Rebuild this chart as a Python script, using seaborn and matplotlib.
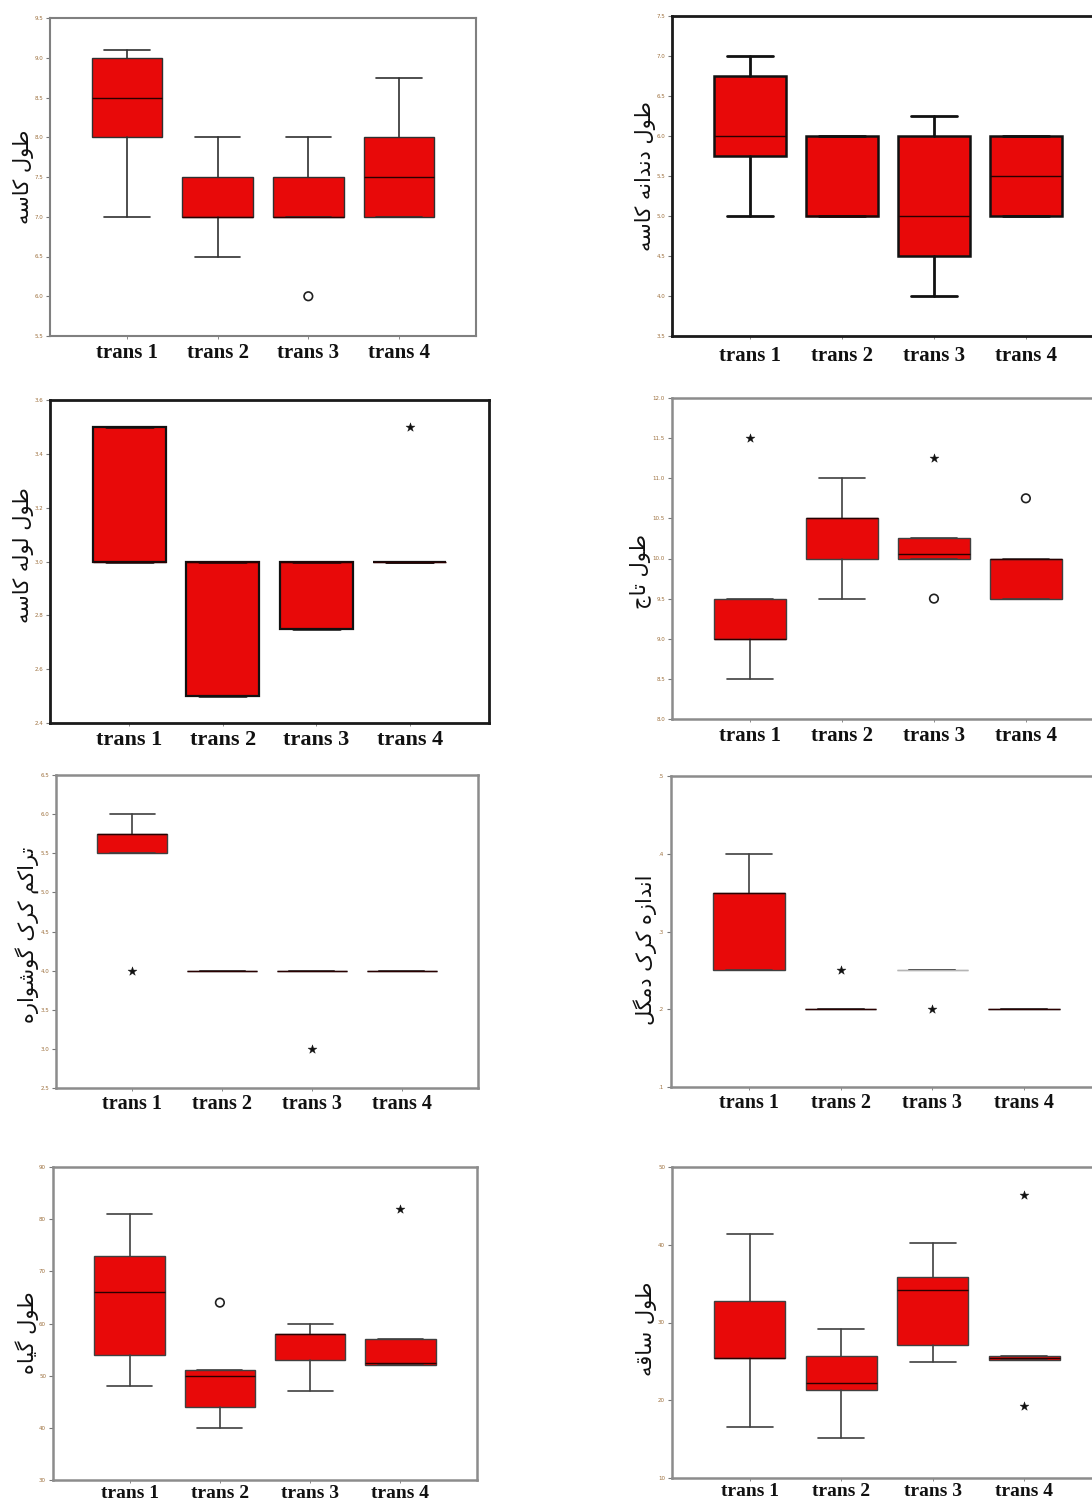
import matplotlib
matplotlib.use("Agg")
import matplotlib.pyplot as plt
import numpy as np
import pandas as pd
import seaborn as sns

# ---- data (five-number summary per group) ----
groups = ["trans 1", "trans 2", "trans 3", "trans 4"]

# each row: whisker low, Q1, median, Q3, whisker high
calyx_stats = [
    [7.0, 8.0, 8.5, 9.0, 9.1],
    [6.5, 7.0, 7.0, 7.5, 8.0],
    [7.0, 7.0, 7.0, 7.5, 8.0],
    [7.0, 7.0, 7.5, 8.0, 8.75],
]
calyx_mild = [[], [], [6.0], []]
calyx_extreme = [[], [], [], []]
calyx_ticks = [5.5, 6.0, 6.5, 7.0, 7.5, 8.0, 8.5, 9.0, 9.5]

tooth_stats = [
    [5.0, 5.75, 6.0, 6.75, 7.0],
    [5.0, 5.0, 5.0, 6.0, 6.0],
    [4.0, 4.5, 5.0, 6.0, 6.25],
    [5.0, 5.0, 5.5, 6.0, 6.0],
]
tooth_mild = [[], [], [], []]
tooth_extreme = [[], [], [], []]
tooth_ticks = [3.5, 4.0, 4.5, 5.0, 5.5, 6.0, 6.5, 7.0, 7.5]

tube_stats = [
    [3.0, 3.0, 3.0, 3.5, 3.5],
    [2.5, 2.5, 3.0, 3.0, 3.0],
    [2.75, 2.75, 3.0, 3.0, 3.0],
    [3.0, 3.0, 3.0, 3.0, 3.0],
]
tube_mild = [[], [], [], []]
tube_extreme = [[], [], [], [3.5]]
tube_ticks = [2.4, 2.6, 2.8, 3.0, 3.2, 3.4, 3.6]

corolla_stats = [
    [8.5, 9.0, 9.0, 9.5, 9.5],
    [9.5, 10.0, 10.5, 10.5, 11.0],
    [10.0, 10.0, 10.05, 10.25, 10.25],
    [9.5, 9.5, 10.0, 10.0, 10.0],
]
corolla_mild = [[], [], [9.5], [10.75]]
corolla_extreme = [[11.5], [], [11.25], []]
corolla_ticks = [8.0, 8.5, 9.0, 9.5, 10.0, 10.5, 11.0, 11.5, 12.0]

hair_density_stats = [
    [5.5, 5.5, 5.75, 5.75, 6.0],
    [4.0, 4.0, 4.0, 4.0, 4.0],
    [4.0, 4.0, 4.0, 4.0, 4.0],
    [4.0, 4.0, 4.0, 4.0, 4.0],
]
hair_density_mild = [[], [], [], []]
hair_density_extreme = [[4.0], [], [3.0], []]
hair_density_ticks = [2.5, 3.0, 3.5, 4.0, 4.5, 5.0, 5.5, 6.0, 6.5]

hair_size_stats = [
    [0.25, 0.25, 0.35, 0.35, 0.40],
    [0.20, 0.20, 0.20, 0.20, 0.20],
    [0.25, 0.25, 0.25, 0.25, 0.25],
    [0.20, 0.20, 0.20, 0.20, 0.20],
]
hair_size_mild = [[], [], [], []]
hair_size_extreme = [[], [0.25], [0.20], []]
hair_size_ticks = [0.1, 0.2, 0.3, 0.4, 0.5]

plant_stats = [
    [48, 54, 66, 73, 81],
    [40, 44, 50, 51, 51],
    [47, 53, 58, 58, 60],
    [52, 52, 52.5, 57, 57],
]
plant_mild = [[], [64], [], []]
plant_extreme = [[], [], [], [82]]
plant_ticks = [30, 40, 50, 60, 70, 80, 90]

stem_stats = [
    [16.6, 25.4, 25.4, 32.8, 41.4],
    [15.1, 21.3, 22.2, 25.7, 29.2],
    [24.9, 27.1, 34.2, 35.9, 40.2],
    [25.2, 25.2, 25.4, 25.7, 25.7],
]
stem_mild = [[], [], [], []]
stem_extreme = [[], [], [], [46.4, 19.3]]
stem_ticks = [10, 20, 30, 40, 50]

y_titles = [
    "طول کاسه", "طول دندانه کاسه", "طول لوله کاسه", "طول تاج",
    "تراکم کرک گوشواره", "اندازه کرک دمگل", "طول گیاه", "طول ساقه",
]

# ---- minimal Persian shaping (matplotlib has no complex text layout) ----
FORMS = {  # isolated, final, initial, medial
    "ا": ("\uFE8D", "\uFE8E", None, None),
    "ت": ("\uFE95", "\uFE96", "\uFE97", "\uFE98"),
    "ج": ("\uFE9D", "\uFE9E", "\uFE9F", "\uFEA0"),
    "د": ("\uFEA9", "\uFEAA", None, None),
    "ر": ("\uFEAD", "\uFEAE", None, None),
    "ز": ("\uFEAF", "\uFEB0", None, None),
    "س": ("\uFEB1", "\uFEB2", "\uFEB3", "\uFEB4"),
    "ش": ("\uFEB5", "\uFEB6", "\uFEB7", "\uFEB8"),
    "ط": ("\uFEC1", "\uFEC2", "\uFEC3", "\uFEC4"),
    "ق": ("\uFED5", "\uFED6", "\uFED7", "\uFED8"),
    "ل": ("\uFEDD", "\uFEDE", "\uFEDF", "\uFEE0"),
    "م": ("\uFEE1", "\uFEE2", "\uFEE3", "\uFEE4"),
    "ن": ("\uFEE5", "\uFEE6", "\uFEE7", "\uFEE8"),
    "ه": ("\uFEE9", "\uFEEA", "\uFEEB", "\uFEEC"),
    "و": ("\uFEED", "\uFEEE", None, None),
    "ک": ("\uFB8E", "\uFB8F", "\uFB90", "\uFB91"),
    "گ": ("\uFB92", "\uFB93", "\uFB94", "\uFB95"),
    "ی": ("\uFBFC", "\uFBFD", "\uFBFE", "\uFBFF"),
}


def shape_fa(text):
    out = []
    for i, ch in enumerate(text):
        forms = FORMS.get(ch)
        if forms is None:
            out.append(ch)
            continue
        prev = text[i - 1] if i > 0 else ""
        nxt = text[i + 1] if i + 1 < len(text) else ""
        join_prev = prev in FORMS and FORMS[prev][2] is not None
        join_next = nxt in FORMS and forms[2] is not None
        if join_prev and join_next:
            out.append(forms[3])
        elif join_prev:
            out.append(forms[1])
        elif join_next:
            out.append(forms[2])
        else:
            out.append(forms[0])
    return "".join(reversed(out))


# ---- layout: pixel boxes (left, top, right, bottom) and per panel look ----
W, H = 1092, 1506
panels = [
    dict(stats=calyx_stats, mild=calyx_mild, ext=calyx_extreme, ticks=calyx_ticks,
         box=(50, 18, 476, 336), frame="#808080", frame_lw=1.5, edge="#303030", lw=1.0,
         lab_dx=16, lab_y=0.5, xt_size=15, xt_pad=3, fmt="{:.1f}"),
    dict(stats=tooth_stats, mild=tooth_mild, ext=tooth_extreme, ticks=tooth_ticks,
         box=(672, 16, 1104, 336), frame="#1a1a1a", frame_lw=2.0, edge="#111111", lw=1.8,
         lab_dx=16, lab_y=0.5, xt_size=15, xt_pad=5, fmt="{:.1f}"),
    dict(stats=tube_stats, mild=tube_mild, ext=tube_extreme, ticks=tube_ticks,
         box=(50, 400, 489, 723), frame="#1a1a1a", frame_lw=2.0, edge="#111111", lw=1.6,
         lab_dx=16, lab_y=0.52, xt_size=16, xt_pad=3, fmt="{:.1f}"),
    dict(stats=corolla_stats, mild=corolla_mild, ext=corolla_extreme, ticks=corolla_ticks,
         box=(672, 398, 1104, 719), frame="#8c8c8c", frame_lw=1.8, edge="#404040", lw=1.0,
         lab_dx=21, lab_y=0.46, xt_size=15, xt_pad=3, fmt="{:.1f}"),
    dict(stats=hair_density_stats, mild=hair_density_mild, ext=hair_density_extreme,
         ticks=hair_density_ticks,
         box=(56, 775, 478, 1088), frame="#8c8c8c", frame_lw=1.8, edge="#404040", lw=1.0,
         lab_dx=17, lab_y=0.49, xt_size=14.5, xt_pad=2, fmt="{:.1f}"),
    dict(stats=hair_size_stats, mild=hair_size_mild, ext=hair_size_extreme,
         ticks=hair_size_ticks,
         box=(671, 776, 1102, 1087), frame="#8c8c8c", frame_lw=1.8, edge="#404040", lw=1.0,
         lab_dx=14, lab_y=0.44, xt_size=14.5, xt_pad=2, fmt="short"),
    dict(stats=plant_stats, mild=plant_mild, ext=plant_extreme, ticks=plant_ticks,
         box=(53, 1167, 477, 1480), frame="#8c8c8c", frame_lw=1.8, edge="#404040", lw=1.0,
         lab_dx=14, lab_y=0.47, xt_size=14, xt_pad=1.5, fmt="{:.0f}"),
    dict(stats=stem_stats, mild=stem_mild, ext=stem_extreme, ticks=stem_ticks,
         box=(672, 1167, 1102, 1478), frame="#8c8c8c", frame_lw=1.8, edge="#404040", lw=1.0,
         lab_dx=15, lab_y=0.48, xt_size=14, xt_pad=1.5, fmt="{:.0f}"),
]

sns.set_style("white")
plt.rcParams["font.family"] = ["DejaVu Sans"]

fig = plt.figure(figsize=(W / 100, H / 100), dpi=100)
fig.patch.set_facecolor("white")

positions = [1, 2, 3, 4]
for idx, p in enumerate(panels):
    left, top, right, bottom = p["box"]
    ax = fig.add_axes([left / W, 1 - bottom / H, (right - left) / W, (bottom - top) / H])

    bstats = []
    for g, row in zip(groups, p["stats"]):
        lo, q1, med, q3, hi = row
        bstats.append(dict(label=g, whislo=lo, q1=q1, med=med, q3=q3, whishi=hi, fliers=[]))

    art = ax.bxp(
        bstats, positions=positions, widths=0.78, capwidths=0.5,
        patch_artist=True, showfliers=False,
        boxprops=dict(facecolor="#e80909", edgecolor=p["edge"], linewidth=p["lw"]),
        whiskerprops=dict(color=p["edge"], linewidth=p["lw"] + 0.2),
        capprops=dict(color=p["edge"], linewidth=p["lw"] + 0.2),
        medianprops=dict(color="#2a0000", linewidth=1.0),
    )
    # the flat box of trans 3 in the hair size panel is drawn in light grey
    if idx == 5:
        art["boxes"][2].set_edgecolor("#b5b5b5")
        art["medians"][2].set_color("#b5b5b5")

    # outliers: circles for mild, stars for extreme
    mild = pd.DataFrame([(positions[i], v) for i, vals in enumerate(p["mild"]) for v in vals],
                        columns=["x", "y"])
    ext = pd.DataFrame([(positions[i], v) for i, vals in enumerate(p["ext"]) for v in vals],
                       columns=["x", "y"])
    if len(mild):
        sns.scatterplot(data=mild, x="x", y="y", ax=ax, marker="o", s=38,
                        facecolor="none", edgecolor="#202020", linewidth=1.2, zorder=5)
    if len(ext):
        sns.scatterplot(data=ext, x="x", y="y", ax=ax, marker="*", s=45,
                        color="#111111", edgecolor="#111111", linewidth=0.3, zorder=5)

    ticks = p["ticks"]
    ax.set_xlim(0.15, 4.85)
    ax.set_ylim(ticks[0], ticks[-1])
    ax.set_yticks(ticks)
    if p["fmt"] == "short":
        ax.set_yticklabels([f"{t:.1f}".lstrip("0") for t in ticks])
    else:
        ax.set_yticklabels([p["fmt"].format(t) for t in ticks])
    ax.set_xticks(positions)
    ax.set_xticklabels(groups)
    ax.set_xlabel("")

    ax.tick_params(axis="y", direction="out", length=3, width=0.8, color="#777777",
                   labelsize=4, labelcolor="#9c6f3c", pad=2, left=True)
    ax.tick_params(axis="x", direction="out", length=2, width=0.6, color="#777777",
                   pad=p["xt_pad"], bottom=True)
    for lab in ax.get_xticklabels():
        lab.set_fontfamily("Liberation Serif")
        lab.set_fontweight("bold")
        lab.set_fontsize(p["xt_size"])
        lab.set_color("#111111")

    for sp in ax.spines.values():
        sp.set_visible(True)
        sp.set_color(p["frame"])
        sp.set_linewidth(p["frame_lw"])

    # label coords give the right side of the rotated text; keep it clear of tick labels
    ax.set_ylabel(shape_fa(y_titles[idx]), fontsize=15, color="#111111",
                  fontfamily="DejaVu Sans")
    ax.yaxis.set_label_coords(-p["lab_dx"] / (right - left), p["lab_y"])

fig.savefig("out.png", dpi=100, facecolor="white")
